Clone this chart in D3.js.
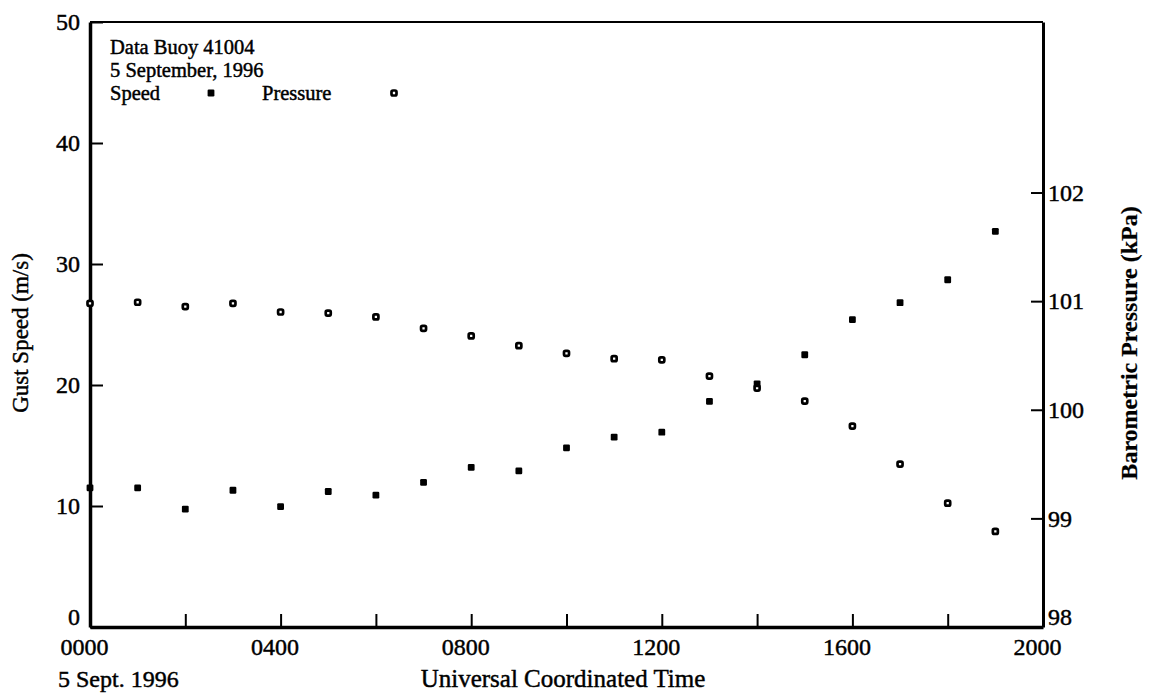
<!DOCTYPE html>
<html>
<head>
<meta charset="utf-8">
<script src="https://cdn.jsdelivr.net/npm/d3@7"></script>
<style>
  html, body { margin: 0; padding: 0; background: #fff; }
  svg { display: block; }
  text { font-family: "Liberation Serif", "Times New Roman", serif; fill: #000; stroke: #000; stroke-width: 0.45px; }
</style>
</head>
<body>
<svg id="chart" width="1150" height="696"></svg>
<script>
// ---- data ----
const hours = [0,1,2,3,4,5,6,7,8,9,10,11,12,13,14,15,16,17,18,19];
const gustSpeed = [11.5,11.5,9.75,11.3,9.95,11.2,10.9,11.95,13.2,12.9,14.8,15.7,16.1,18.65,20.1,22.5,25.4,26.8,28.7,32.7];
const pressure = [100.98,100.99,100.95,100.98,100.90,100.89,100.855,100.75,100.68,100.59,100.52,100.47,100.46,100.31,100.20,100.08,99.85,99.50,99.14,98.88];
const xTicks = [0,2,4,6,8,10,12,14,16,18,20];
const xTickLabels = {0:"0000",4:"0400",8:"0800",12:"1200",16:"1600",20:"2000"};
const leftTicks = [0,10,20,30,40,50];
const rightTicks = [98,99,100,101,102];
const annotationLines = ["Data Buoy 41004","5 September, 1996"];

// ---- layout ----
const L = 90, R = 1043, T = 22, B = 627;
const svg = d3.select("#chart");

const x = d3.scaleLinear().domain([0,20]).range([L,R]);
const yL = d3.scaleLinear().domain([0,50]).range([B,T]);
const yR = d3.scaleLinear().domain([98,103.57]).range([B,T]);

// top frame
svg.append("line").attr("x1",L).attr("x2",R).attr("y1",T).attr("y2",T)
  .attr("stroke","#000").attr("stroke-width",2.2);

// left axis
const gL = svg.append("g").attr("transform",`translate(${L},0)`)
  .call(d3.axisLeft(yL).tickValues(leftTicks).tickSizeInner(-13).tickSizeOuter(0).tickPadding(10).tickFormat(d3.format("d")));
gL.select(".domain").attr("stroke-width",3.5);
gL.selectAll(".tick line").attr("stroke-width",2);
gL.selectAll(".tick text").attr("font-size",24)
  .attr("dy", d => d===0 ? "-0.12em" : "0.32em");

// right axis
const gR = svg.append("g").attr("transform",`translate(${R},0)`)
  .call(d3.axisRight(yR).tickValues(rightTicks).tickSizeInner(-12).tickSizeOuter(0).tickPadding(5).tickFormat(d3.format("d")));
gR.select(".domain").attr("stroke-width",3);
gR.selectAll(".tick line").attr("stroke-width",2);
gR.selectAll(".tick text").attr("font-size",24)
  .attr("dy", d => d===98 ? "-0.12em" : "0.32em");

// bottom axis
const gB = svg.append("g").attr("transform",`translate(0,${B})`)
  .call(d3.axisBottom(x).tickValues(xTicks).tickSizeInner(-13).tickSizeOuter(0).tickPadding(11)
    .tickFormat(d => xTickLabels[d] || ""));
gB.select(".domain").attr("stroke-width",3.5);
gB.selectAll(".tick line").attr("stroke-width",2);
gB.selectAll(".tick text").attr("font-size",24).attr("dx","-6");

// axis titles
svg.append("text").attr("transform","translate(28,333) rotate(-90)")
  .attr("text-anchor","middle").attr("font-size",23)
  .text("Gust Speed (m/s)");
svg.append("text").attr("transform","translate(1137,343) rotate(-90)")
  .attr("text-anchor","middle").attr("font-size",24).attr("font-weight","bold")
  .style("stroke-width","0.2px")
  .text("Barometric Pressure (kPa)");
svg.append("text").attr("x",563).attr("y",687).attr("text-anchor","middle")
  .attr("font-size",25)
  .text("Universal Coordinated Time");
svg.append("text").attr("x",58).attr("y",687)
  .attr("font-size",24)
  .text("5 Sept. 1996");

// annotation
annotationLines.forEach((t,i) => {
  svg.append("text").attr("x",110).attr("y",54 + i*22.8)
    .attr("font-size",20.5).text(t);
});
svg.append("text").attr("x",110).attr("y",99.6).attr("font-size",20.5).text("Speed");
svg.append("text").attr("x",262).attr("y",99.6).attr("font-size",20.5).text("Pressure");

// markers
function filled(sel){ return sel.attr("width",6.8).attr("height",6.8).attr("rx",1.2).attr("fill","#000"); }
function open(sel){ return sel.attr("width",5).attr("height",5).attr("rx",1.5).attr("fill","#fff").attr("stroke","#000").attr("stroke-width",2.7); }

svg.append("g").selectAll("rect").data(hours).join("rect")
  .attr("x", (d,i) => x(d)-2.5).attr("y", (d,i) => yR(pressure[i])-2.5).call(open);
svg.append("g").selectAll("rect").data(hours).join("rect")
  .attr("x", (d,i) => x(d)-3.4).attr("y", (d,i) => yL(gustSpeed[i])-3.4).call(filled);

// legend markers
svg.append("rect").attr("x",211-3.4).attr("y",93-3.4).call(filled);
svg.append("rect").attr("x",394-2.5).attr("y",93-2.5).call(open);
</script>
</body>
</html>
